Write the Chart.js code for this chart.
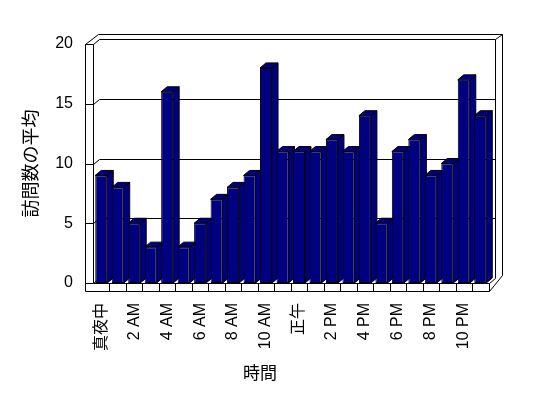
<!DOCTYPE html>
<html><head><meta charset="utf-8">
<script src="https://cdn.jsdelivr.net/npm/chart.js@4/dist/chart.umd.min.js"></script>
<style>html,body{margin:0;padding:0;background:#fff}canvas{display:block}</style>
</head><body>
<canvas id="c" width="548" height="398"></canvas>
<script>
// ---- data ----
const hours = ['真夜中','1 AM','2 AM','3 AM','4 AM','5 AM','6 AM','7 AM','8 AM','9 AM','10 AM','11 AM',
               '正午','1 PM','2 PM','3 PM','4 PM','5 PM','6 PM','7 PM','8 PM','9 PM','10 PM','11 PM'];
const visits = [9,8,5,3,16,3,5,7,8,9,18,11,11,11,12,11,14,5,11,12,9,10,17,14];
const yTicks = [0,5,10,15,20];
const yTitle = '訪問数の平均';
const xTitle = '時間';

const FONT = "'Liberation Sans', 'Noto Sans CJK JP', sans-serif";
const BAR = '#000080';

const threeD = {
  id: 'threeD',
  beforeDatasetsDraw(chart) {
    const ctx = chart.ctx, ca = chart.chartArea, ys = chart.scales.y;
    const dx = 6, dy = -5;          // inner depth
    const odx = 13, ody = -10;      // outer wall depth
    const ox = 85, floorB = 291;
    const L = Math.round(ca.left) + 0.5, R = Math.round(ca.right) + 0.5;
    const T = Math.round(ca.top) + 0.5, B = Math.round(ca.bottom) + 0.5;
    const X0 = ox + 0.5, FB = floorB + 0.5;
    const line = (pts) => { ctx.beginPath(); ctx.moveTo(pts[0][0], pts[0][1]); for (let i = 1; i < pts.length; i++) ctx.lineTo(pts[i][0], pts[i][1]); ctx.stroke(); };
    ctx.save();
    ctx.strokeStyle = '#000'; ctx.lineWidth = 1;
    // back wall gridlines
    yTicks.forEach(v => {
      const yp = Math.round(ys.getPixelForValue(v)) + 0.5;
      if (v > 0) line([[L + dx, yp + dy], [R + dx, yp + dy]]);
      line([[X0, yp], [L, yp], [L + dx, yp + dy]]);
    });
    // left wall
    line([[X0, T], [X0, FB]]);
    line([[L, T], [L, B]]);
    line([[X0, T], [X0 + odx, T + ody]]);
    // outer top and right of back wall
    line([[X0 + odx, T + ody], [R + dx + 7, T + ody], [R + dx + 7, B + dy - 3]]);
    line([[R + dx + 7, T + ody], [R + dx, T + dy]]);
    line([[R + dx, T + dy], [R + dx, B + dy]]);
    // floor
    line([[X0, B], [R, B], [R, FB], [X0, FB]]);
    line([[R, FB], [R + dx + 7, B + dy - 3]]);
    line([[R, B], [R + dx, B + dy]]);
    const n = hours.length, slot = (ca.right - ca.left) / n;
    for (let i = 1; i < n; i++) {
      const xp = Math.round(ca.left + i * slot) + 0.5;
      line([[xp, B], [xp, FB]]);
    }
    // bar tops and sides
    const meta = chart.getDatasetMeta(0);
    ctx.fillStyle = BAR;
    meta.data.forEach(el => {
      const p = el.getProps(['x', 'y', 'base', 'width'], true);
      const l = p.x - p.width / 2, r = p.x + p.width / 2, t = p.y, b = p.base;
      const poly = (pts) => { ctx.beginPath(); ctx.moveTo(pts[0][0], pts[0][1]); for (let i = 1; i < pts.length; i++) ctx.lineTo(pts[i][0], pts[i][1]); ctx.closePath(); ctx.fill(); ctx.stroke(); };
      poly([[r, t], [r + dx, t + dy], [r + dx, b + dy], [r, b]]);
      poly([[l, t], [r, t], [r + dx, t + dy], [l + dx, t + dy]]);
    });
    ctx.restore();
  }
};

new Chart(document.getElementById('c'), {
  type: 'bar',
  data: {
    labels: hours,
    datasets: [{
      data: visits,
      backgroundColor: BAR,
      borderColor: '#000',
      borderWidth: 1,
      borderSkipped: false,
      barPercentage: 0.73,
      categoryPercentage: 1.0
    }]
  },
  plugins: [threeD],
  options: {
    responsive: false,
    animation: false,
    layout: { padding: { left: 0, right: 28, top: 44, bottom: 0 } },
    plugins: {
      legend: { display: false },
      tooltip: { enabled: false },
      title: {
        display: true, text: xTitle, position: 'bottom', color: '#000',
        font: { family: FONT, size: 17, weight: 'normal' },
        padding: { top: 0, bottom: 13 }
      }
    },
    scales: {
      x: {
        grid: { display: false, drawTicks: false },
        border: { display: false },
        ticks: {
          autoSkip: false, minRotation: 90, maxRotation: 90, padding: 20, color: '#000',
          font: { family: FONT, size: 16 },
          callback: (v, i) => (i % 2 === 0 ? hours[i] : '')
        },
        afterFit: s => { s.height = 81.6; }
      },
      y: {
        min: 0, max: 20,
        grid: { display: false, drawTicks: false },
        border: { display: false },
        afterBuildTicks: s => { s.ticks = yTicks.map(v => ({ value: v })); },
        ticks: { padding: 20, color: '#000', font: { family: FONT, size: 16 } },
        title: {
          display: true, text: yTitle, color: '#000',
          font: { family: FONT, size: 18 },
          padding: { top: 21, bottom: 0 }
        },
        afterFit: s => { s.width = 93; }
      },
      yr: {
        position: 'right', display: true,
        grid: { display: false, drawTicks: false },
        border: { display: false },
        ticks: { display: false },
        afterFit: s => { s.width = 31.5; }
      }
    }
  }
});
</script>
</body></html>
